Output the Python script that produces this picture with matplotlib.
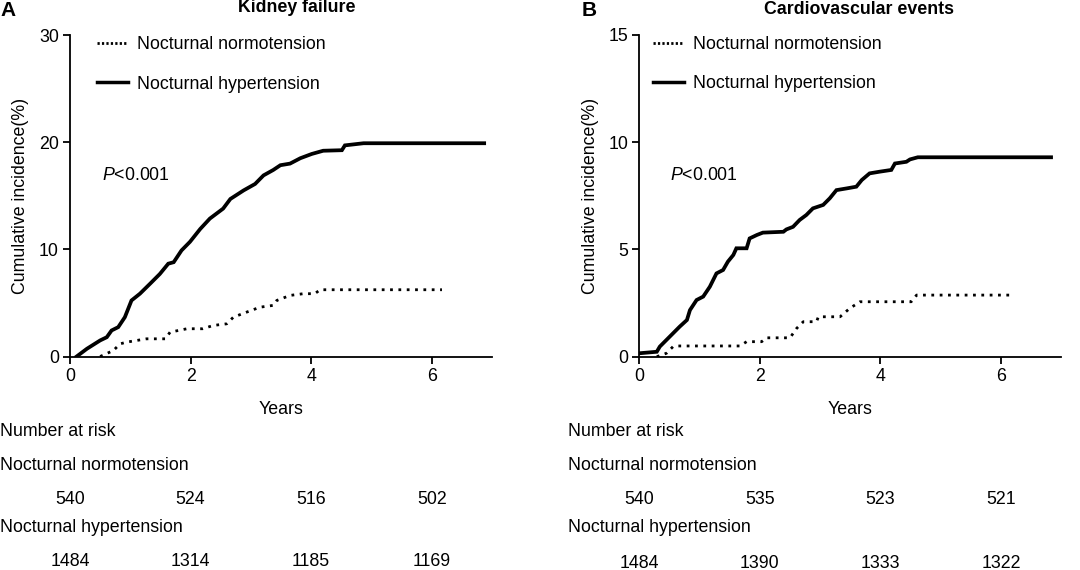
import numpy as np
import matplotlib
matplotlib.use("Agg")
import matplotlib.pyplot as plt
from matplotlib.lines import Line2D
from matplotlib.transforms import blended_transform_factory

plt.rcParams['font.family'] = ['Liberation Sans', 'DejaVu Sans']
plt.rcParams['mathtext.fontset'] = 'custom'
plt.rcParams['mathtext.it'] = 'Liberation Sans:italic'
plt.rcParams['mathtext.rm'] = 'Liberation Sans'

FS = 12.8

# Kidney failure curves (years, cumulative incidence %)
kid_hyper_t = [0.11, 0.28, 0.5, 0.61, 0.69, 0.8, 0.91, 1.02, 1.16, 1.33, 1.49, 1.63, 1.72,
               1.85, 1.99, 2.16, 2.32, 2.54, 2.66, 2.88, 3.07, 3.21, 3.37, 3.49, 3.65, 3.82,
               4.01, 4.2, 4.51, 4.56, 4.87, 6.87]
kid_hyper_y = [0, 0.72, 1.5, 1.8, 2.43, 2.74, 3.67, 5.23, 5.86, 6.8, 7.7, 8.66, 8.8,
               9.9, 10.7, 11.9, 12.87, 13.8, 14.7, 15.5, 16.1, 16.9, 17.4, 17.85, 18.0, 18.5,
               18.9, 19.2, 19.25, 19.7, 19.9, 19.9]
kid_normo_t = [0.5, 0.72, 0.83, 0.94, 1.27, 1.58, 1.66, 1.94, 2.2, 2.38, 2.6, 2.71, 2.93,
               3.15, 3.37, 3.43, 3.65, 3.87, 4.06, 4.15, 6.17]
kid_normo_y = [0, 0.56, 1.18, 1.34, 1.65, 1.65, 2.27, 2.59, 2.59, 2.9, 3.05, 3.67, 4.14,
               4.6, 4.77, 5.23, 5.7, 5.86, 5.86, 6.23, 6.23]

# Cardiovascular events curves
cv_hyper_t = [0, 0.29, 0.34, 0.45, 0.56, 0.67, 0.79, 0.84, 0.95, 1.06, 1.17, 1.28, 1.39,
              1.47, 1.56, 1.61, 1.78, 1.83, 1.95, 2.05, 2.39, 2.44, 2.55, 2.66, 2.77, 2.88,
              3.05, 3.16, 3.27, 3.44, 3.6, 3.69, 3.82, 3.99, 4.18, 4.24, 4.43, 4.49, 4.62, 6.83]
cv_hyper_y = [0.16, 0.23, 0.47, 0.78, 1.09, 1.4, 1.71, 2.17, 2.64, 2.8, 3.26, 3.88, 4.04,
              4.43, 4.74, 5.05, 5.05, 5.51, 5.67, 5.78, 5.82, 5.93, 6.05, 6.37, 6.6, 6.91,
              7.07, 7.38, 7.76, 7.84, 7.92, 8.23, 8.54, 8.62, 8.7, 9.0, 9.08, 9.19, 9.29, 9.29]
cv_normo_t = [0.29, 0.45, 0.56, 0.62, 1.67, 1.78, 2.03, 2.11, 2.5, 2.61, 2.72, 2.94, 2.97,
              3.33, 3.49, 3.66, 4.51, 4.6, 6.14]
cv_normo_y = [0, 0.16, 0.47, 0.5, 0.5, 0.7, 0.7, 0.88, 0.88, 1.32, 1.63, 1.63, 1.86,
              1.86, 2.25, 2.56, 2.56, 2.87, 2.87]

# number at risk
risk_years = [0, 2, 4, 6]
kid_normo_risk = [540, 524, 516, 502]
kid_hyper_risk = [1484, 1314, 1185, 1169]
cv_normo_risk = [540, 535, 523, 521]
cv_hyper_risk = [1484, 1390, 1333, 1322]

fig = plt.figure(figsize=(10.8, 5.7), dpi=100)
axA = fig.add_axes([70/1080, 1-356.5/570, 422/1080, 321.5/570])
axB = fig.add_axes([639.3/1080, 1-356.7/570, 422/1080, 322/570])


def draw_panel(ax, tn, yn, th, yh, ymax, ystep, leg_x, ptxt_xy, risk_n, risk_h, txt_x, hy):
    ax.plot(tn, yn, color='black', lw=2.0, linestyle=(0, (1, 2)), dash_capstyle='butt')
    ax.plot(th, yh, color='black', lw=2.7, solid_joinstyle='miter')
    ax.set_xlim(0, 7)
    ax.set_ylim(0, ymax)
    ax.set_xticks([0, 2, 4, 6])
    ax.set_yticks(np.arange(0, ymax + 0.1, ystep))
    for s in ['top', 'right']:
        ax.spines[s].set_visible(False)
    for s in ['left', 'bottom']:
        ax.spines[s].set_linewidth(1.3)
    ax.tick_params(width=1.3, length=5, labelsize=FS, pad=3)
    ax.set_xlabel('Years', fontsize=FS, labelpad=12)
    ax.set_ylabel('Cumulative incidence(%)', fontsize=FS, labelpad=7)
    handles = [Line2D([], [], color='black', lw=2.0, linestyle=(0, (0.8, 0.8))),
               Line2D([], [], color='black', lw=2.5)]
    ax.legend(handles, ['Nocturnal normotension', 'Nocturnal hypertension'],
              loc='upper left', bbox_to_anchor=(leg_x, 0.996), frameon=False,
              fontsize=FS, borderpad=0, borderaxespad=0, handlelength=1.75,
              handletextpad=0.5, labelspacing=1.25)
    ax.text(ptxt_xy[0], ptxt_xy[1], '$P$<0.001', fontsize=FS, ha='left', va='center')

    tr = blended_transform_factory(ax.transData, fig.transFigure)
    fig.text(txt_x, 1-432/570, 'Number at risk', fontsize=FS, ha='left', va='center')
    fig.text(txt_x, 1-465/570, 'Nocturnal normotension', fontsize=FS, ha='left', va='center')
    fig.text(txt_x, 1-527/570, 'Nocturnal hypertension', fontsize=FS, ha='left', va='center')
    for x, n in zip(risk_years, risk_n):
        ax.text(x, 1-499/570, str(n), transform=tr, fontsize=FS, ha='center', va='center')
    for x, n in zip(risk_years, risk_h):
        ax.text(x, 1-hy/570, str(n), transform=tr, fontsize=FS, ha='center', va='center')


draw_panel(axA, kid_normo_t, kid_normo_y, kid_hyper_t, kid_hyper_y, 30, 10, 0.064,
           (0.53, 16.9), kid_normo_risk, kid_hyper_risk, 0.0, 561)
draw_panel(axB, cv_normo_t, cv_normo_y, cv_hyper_t, cv_hyper_y, 15, 5, 0.032,
           (0.51, 8.46), cv_normo_risk, cv_hyper_risk, 568/1080, 563)

fig.text(297/1080, 1-7/570, 'Kidney failure', fontsize=FS, fontweight='bold', ha='center', va='center')
fig.text(859/1080, 1-9/570, 'Cardiovascular events', fontsize=FS, fontweight='bold', ha='center', va='center')
fig.text(0/1080, 1-11/570, 'A', fontsize=15, fontweight='bold', ha='left', va='center')
fig.text(582/1080, 1-11/570, 'B', fontsize=15, fontweight='bold', ha='left', va='center')

fig.savefig('out.png', dpi=100)
